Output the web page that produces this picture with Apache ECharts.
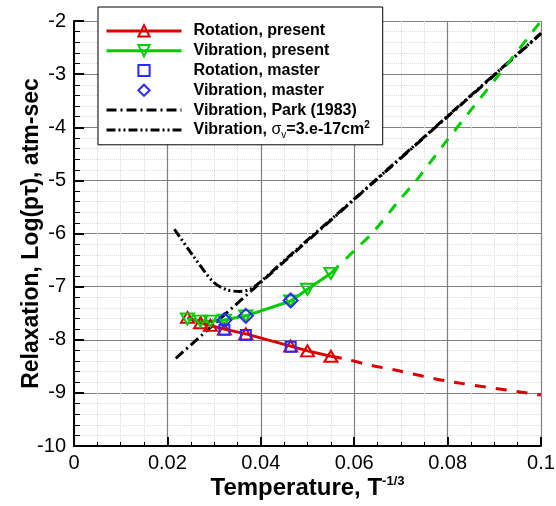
<!DOCTYPE html>
<html><head><meta charset="utf-8">
<script src="https://cdn.jsdelivr.net/npm/echarts@6/dist/echarts.min.js"></script>
<style>html,body{margin:0;padding:0;background:#fff}#c{width:556px;height:506px}</style>
</head><body><div id="c"></div>
<script>
const FONT = '"Liberation Sans", Arial, Helvetica, sans-serif';
const RED = '#dd0000', GREEN = '#00cc00', BLUE = '#2828ff';

const xTickLabels = ['0', '0.02', '0.04', '0.06', '0.08', '0.1'];
const yTickLabels = ['-10', '-9', '-8', '-7', '-6', '-5', '-4', '-3', '-2'];

const legendNames = ['Rotation, present', 'Vibration, present', 'Rotation, master',
  'Vibration, master', 'Vibration, Park (1983)', 'Vibration, σv=3.e-17cm2'];

// present solution (solid with markers)
const presentX   = [0.0243, 0.0271, 0.0292, 0.0322, 0.0368, 0.0464, 0.0500, 0.0550];
const rotPresentY = [-7.58, -7.68, -7.73, -7.80, -7.89, -8.12, -8.21, -8.31];
const vibPresentY = [-7.61, -7.65, -7.65, -7.63, -7.55, -7.27, -7.05, -6.75];

// dashed extensions
const rotExtX = [0.0550, 0.0585, 0.0630, 0.0693, 0.0794, 0.1000];
const rotExtY = [-8.31, -8.37, -8.47, -8.58, -8.77, -9.04];
const vibExtX = [0.0550, 0.0598, 0.0641, 0.0694, 0.0734, 0.0794, 0.0909, 0.1000];
const vibExtY = [-6.75, -6.34, -5.97, -5.40, -4.99, -4.30, -3.02, -2.00];

// master
const masterX    = [0.0322, 0.0368, 0.0464];
const rotMasterY = [-7.81, -7.91, -8.13];
const vibMasterY = [-7.63, -7.55, -7.26];

// Park (1983)
const parkX = [0.0218, 0.0400, 0.0600, 0.0800, 0.1000];
const parkY = [-8.35, -6.92, -5.36, -3.80, -2.24];

// sigma_v curve
const sigmaX = [0.0215, 0.0255, 0.0298, 0.0327, 0.0355, 0.0377, 0.0398, 0.0450, 0.0600, 0.0800, 0.1000];
const sigmaY = [-5.92, -6.42, -6.91, -7.06, -7.09, -7.05, -6.92, -6.51, -5.35, -3.79, -2.23];

const zip = (xs, ys) => xs.map((x, i) => [x, ys[i]]);

const chart = echarts.init(document.getElementById('c'), null, {renderer: 'canvas'});
chart.setOption({
  animation: false,
  backgroundColor: '#fff',
  grid: {left: 74, right: 15, top: 21, bottom: 60, containLabel: false, outerBoundsMode: 'none'},
  legend: {
    data: legendNames.map((n, i) => i >= 4 ? {name: n, itemStyle: {opacity: 0}} : {name: n}),
    orient: 'vertical',
    left: 98, top: 7,
    itemWidth: 75, itemHeight: 14, itemGap: 0,
    padding: [14, 13, 5, 7],
    borderColor: '#000', borderWidth: 1, backgroundColor: '#fff',
    selectedMode: false,
    lineStyle: {width: 3},
    textStyle: {
      fontFamily: FONT, fontWeight: 'bold', fontSize: 16, color: '#000', lineHeight: 19.8,
      padding: [0, 0, 0, 7],
      rich: {
        g: {fontFamily: FONT, fontWeight: 'normal', fontSize: 16, color: '#000'},
        sub: {fontFamily: FONT, fontWeight: 'normal', fontSize: 10, lineHeight: 11, verticalAlign: 'bottom', color: '#000'},
        t: {fontFamily: FONT, fontWeight: 'bold', fontSize: 16, color: '#000'},
        sup: {fontFamily: FONT, fontWeight: 'bold', fontSize: 10, lineHeight: 11, verticalAlign: 'top', color: '#000'}
      }
    },
    formatter: name => name === legendNames[5] ? 'Vibration, {g|σ}{sub|v}{t|=3.e-17cm}{sup|2}' : name
  },
  xAxis: {
    type: 'value', min: 0, max: 0.1, interval: 0.02,
    name: 'Temperature, T{sup|-1/3}', nameLocation: 'middle', nameGap: 29, nameMoveOverlap: false,
    nameTextStyle: {
      fontFamily: FONT, fontWeight: 'bold', fontSize: 24, color: '#000', lineHeight: 26,
      rich: {sup: {fontFamily: FONT, fontWeight: 'bold', fontSize: 13, lineHeight: 13, verticalAlign: 'top', color: '#000'}}
    },
    axisLine: {show: true, onZero: false, lineStyle: {color: '#000', width: 2}},
    axisTick: {show: true, inside: true, length: 9, lineStyle: {color: '#000', width: 2}},
    minorTick: {show: true, splitNumber: 4, length: 4, lineStyle: {color: '#000', width: 1}},
    axisLabel: {
      fontFamily: FONT, fontSize: 20, color: '#000', margin: 7,
      formatter: v => xTickLabels[Math.round(v / 0.02)]
    },
    splitLine: {show: true, lineStyle: {color: '#808080', width: 1.2}},
    minorSplitLine: {show: true, lineStyle: {color: '#dcdcdc', width: 1, type: 'dotted'}}
  },
  yAxis: {
    type: 'value', min: -10, max: -2, interval: 1,
    name: 'Relaxation, Log(pτ), atm-sec', nameLocation: 'middle', nameGap: 31, nameRotate: 90,
    nameMoveOverlap: false,
    nameTextStyle: {fontFamily: FONT, fontWeight: 'bold', fontSize: 23, color: '#000'},
    axisLine: {show: true, onZero: false, lineStyle: {color: '#000', width: 2}},
    axisTick: {show: true, inside: true, length: 10, lineStyle: {color: '#000', width: 2}},
    minorTick: {show: true, splitNumber: 5, length: 6, lineStyle: {color: '#000', width: 1}},
    axisLabel: {
      fontFamily: FONT, fontSize: 20, color: '#000', margin: 8,
      formatter: v => yTickLabels[Math.round(v + 10)]
    },
    splitLine: {show: true, lineStyle: {color: '#808080', width: 1.2}},
    minorSplitLine: {show: true, lineStyle: {color: '#dcdcdc', width: 1, type: 'dotted'}}
  },
  series: [
    {
      name: legendNames[4], type: 'line', data: zip(parkX, parkY), symbol: 'none', z: 2,
      lineStyle: {color: '#000', width: 3, type: [10, 4, 2, 4]}, itemStyle: {color: '#000'}
    },
    {
      name: legendNames[5], type: 'line', data: zip(sigmaX, sigmaY), symbol: 'none', smooth: 0.3, z: 2,
      lineStyle: {color: '#000', width: 3, type: [9, 3, 2, 3, 2, 3]}, itemStyle: {color: '#000'}
    },
    {
      name: 'rotExt', type: 'line', data: zip(rotExtX, rotExtY), symbol: 'none', smooth: 0.3, z: 3,
      lineStyle: {color: RED, width: 3, type: [11, 10]}
    },
    {
      name: 'vibExt', type: 'line', data: zip(vibExtX, vibExtY), symbol: 'none', smooth: 0.3, z: 3,
      lineStyle: {color: GREEN, width: 3, type: [11, 10]}
    },
    {
      name: legendNames[0], type: 'line', data: zip(presentX, rotPresentY), z: 4,
      symbol: 'triangle', symbolSize: [13, 11], showAllSymbol: true,
      itemStyle: {color: 'transparent', borderColor: RED, borderWidth: 2},
      lineStyle: {color: RED, width: 3}
    },
    {
      name: legendNames[1], type: 'line', data: zip(presentX, vibPresentY), z: 4,
      symbol: 'triangle', symbolRotate: 180, symbolSize: [13, 11], showAllSymbol: true,
      itemStyle: {color: 'transparent', borderColor: GREEN, borderWidth: 2},
      lineStyle: {color: GREEN, width: 3}
    },
    {
      name: legendNames[2], type: 'line', data: zip(masterX, rotMasterY), z: 5,
      symbol: 'rect', symbolSize: 10, showAllSymbol: true,
      itemStyle: {color: 'transparent', borderColor: BLUE, borderWidth: 2},
      lineStyle: {opacity: 0, width: 0}
    },
    {
      name: legendNames[3], type: 'line', data: zip(masterX, vibMasterY), z: 5,
      symbol: 'diamond', symbolSize: 14, showAllSymbol: true,
      itemStyle: {color: 'transparent', borderColor: BLUE, borderWidth: 2},
      lineStyle: {opacity: 0, width: 0}
    }
  ]
});
</script>
</body></html>
